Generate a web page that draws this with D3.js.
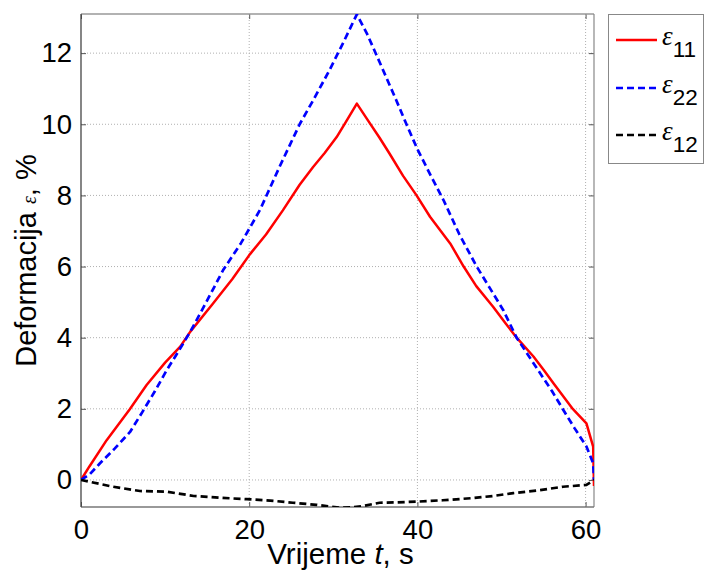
<!DOCTYPE html>
<html><head><meta charset="utf-8">
<script src="https://cdn.jsdelivr.net/npm/d3@7"></script>
<style>body{margin:0;background:#fff}svg{display:block}</style>
</head><body>
<svg id="chart" width="705" height="572"></svg>
<script>
const xTicks = [0, 20, 40, 60];
const yTicks = [0, 2, 4, 6, 8, 10, 12];

const t11 = [0,1,3.05,5.8,7.8,10,11.8,13,15.7,18,20.1,22,24,26,27.6,29,30.4,31.5,32.8,34,35.5,36.7,38.3,39.9,41.5,43.9,45.5,47,49,50.5,51.8,53.8,55,56.2,58.5,60.1,60.9,61];
const e11 = [0,0.38,1.12,1.99,2.67,3.3,3.75,4.17,4.96,5.65,6.35,6.9,7.58,8.3,8.8,9.2,9.64,10.07,10.58,10.15,9.62,9.17,8.55,8.0,7.4,6.65,6.0,5.45,4.87,4.4,4.0,3.47,3.1,2.71,1.99,1.59,0.94,-0.17];

const t22 = [0,1,2.26,4,5.83,7.4,8.8,10.2,11.6,13,14.9,16.9,19,20.1,21.3,23.6,26,27.6,29.5,31.2,32.8,34,35.5,37.5,38.7,40,41.5,43.1,45,47.05,48.6,50.2,51.8,53.2,54.6,56,57.3,58.7,60.1,60.9,61];
const e22 = [0,0.15,0.47,0.88,1.35,1.95,2.5,3.09,3.62,4.17,5.0,5.9,6.65,7.1,7.6,8.8,10.0,10.67,11.5,12.3,13.09,12.55,11.75,10.67,10.0,9.3,8.6,7.87,6.9,6.0,5.4,4.78,4.0,3.5,3.0,2.5,1.99,1.45,0.94,0.47,0];

const t12 = [0,3.8,7,10.2,13.4,16.5,19.7,22.5,25.2,28,30.8,32.2,33.6,35.5,37.5,39.9,43,46.6,49,51.4,54.5,57.3,60.1,60.7,61];
const e12 = [0,-0.19,-0.31,-0.33,-0.45,-0.5,-0.54,-0.58,-0.64,-0.7,-0.78,-0.77,-0.73,-0.64,-0.63,-0.61,-0.57,-0.51,-0.45,-0.37,-0.29,-0.19,-0.14,-0.05,0];

const seriesNames = ["11", "22", "12"];
const seriesColors = ["#ff0000", "#0000ff", "#000000"];

const L = 81, R = 594, T = 14, B = 507;
const svg = d3.select("#chart");
const x = d3.scaleLinear().domain([0, 61]).range([L, R]);
const y = d3.scaleLinear().domain([-0.76, 13.1]).range([B, T]);

svg.append("defs").append("clipPath").attr("id","clip")
  .append("rect").attr("x",L).attr("y",T).attr("width",R-L).attr("height",B-T);

// grid
const grid = svg.append("g");
grid.selectAll(".gx").data(xTicks.filter(d=>d>0)).enter().append("line")
  .attr("x1",d=>x(d)).attr("x2",d=>x(d)).attr("y1",T).attr("y2",B)
  .attr("stroke","#b0b0b0").attr("stroke-width",1).attr("stroke-dasharray","1,2");
grid.selectAll(".gy").data(yTicks).enter().append("line")
  .attr("y1",d=>y(d)).attr("y2",d=>y(d)).attr("x1",L).attr("x2",R)
  .attr("stroke","#b0b0b0").attr("stroke-width",1).attr("stroke-dasharray","1,2");

// axes with inward ticks
const fs = "27.5px";
const ax = svg.append("g").attr("transform",`translate(0,${B})`)
  .call(d3.axisBottom(x).tickValues(xTicks).tickSizeInner(-5).tickSizeOuter(0).tickPadding(12));
const ay = svg.append("g").attr("transform",`translate(${L},0)`)
  .call(d3.axisLeft(y).tickValues(yTicks).tickSizeInner(-5).tickSizeOuter(0).tickPadding(9));
const axT = svg.append("g").attr("transform",`translate(0,${T})`)
  .call(d3.axisTop(x).tickValues(xTicks).tickSizeInner(-5).tickSizeOuter(0).tickFormat(""));
const ayR = svg.append("g").attr("transform",`translate(${R},0)`)
  .call(d3.axisRight(y).tickValues(yTicks).tickSizeInner(-5).tickSizeOuter(0).tickFormat(""));
[ax, ay, axT, ayR].forEach(g => {
  g.select(".domain").remove();
  g.selectAll(".tick line").attr("stroke","#555");
  g.selectAll(".tick text").attr("font-family","Liberation Sans, Arial, sans-serif").attr("font-size",fs).attr("fill","#000");
});
// box
svg.append("line").attr("x1",L).attr("x2",R).attr("y1",T).attr("y2",T).attr("stroke","#999").attr("stroke-width",1.5);
svg.append("line").attr("x1",R).attr("x2",R).attr("y1",T).attr("y2",B).attr("stroke","#888").attr("stroke-width",1.2);
svg.append("line").attr("x1",L).attr("x2",R).attr("y1",B).attr("y2",B).attr("stroke","#777").attr("stroke-width",1.3);
svg.append("line").attr("x1",L).attr("x2",L).attr("y1",T).attr("y2",B).attr("stroke","#444").attr("stroke-width",1.3);

// lines
const series = [
  {t:t11, v:e11, dash:null, w:2.5},
  {t:t22, v:e22, dash:"7,4", w:2.7},
  {t:t12, v:e12, dash:"7,4", w:2.7}
];
const line = d3.line().x(d=>x(d[0])).y(d=>y(d[1]));
const plot = svg.append("g").attr("clip-path","url(#clip)");
series.forEach((s,i) => {
  plot.append("path").datum(d3.zip(s.t, s.v)).attr("d", line)
    .attr("fill","none").attr("stroke",seriesColors[i]).attr("stroke-width",s.w)
    .attr("stroke-dasharray", s.dash).attr("stroke-linejoin","round");
});

// axis labels
const xl = svg.append("text").attr("x",(L+R)/2+3).attr("y",564).attr("text-anchor","middle")
  .attr("font-family","Liberation Sans, Arial, sans-serif").attr("font-size","29.5px");
xl.append("tspan").text("Vrijeme ");
xl.append("tspan").attr("font-style","italic").text("t");
xl.append("tspan").text(", s");

const yl = svg.append("text").attr("transform",`translate(36,${(T+B)/2}) rotate(-90)`).attr("text-anchor","middle")
  .attr("font-family","Liberation Sans, Arial, sans-serif").attr("font-size","29px");
yl.append("tspan").text("Deformacija ");
yl.append("tspan").attr("font-family","Liberation Serif, serif").attr("font-style","italic").attr("font-size","20px").text("ε");
yl.append("tspan").text(", %");

// legend
const lg = svg.append("g");
lg.append("rect").attr("x",608.5).attr("y",14.5).attr("width",95).attr("height",149)
  .attr("fill","#fff").attr("stroke","#888").attr("stroke-width",1);
const legY = [40, 88, 135];
series.forEach((s,i) => {
  lg.append("line").attr("x1",616).attr("x2",657).attr("y1",legY[i]).attr("y2",legY[i])
    .attr("stroke",seriesColors[i]).attr("stroke-width",s.w).attr("stroke-dasharray",s.dash);
  const tx = lg.append("text").attr("x",662).attr("y",legY[i]+5);
  tx.append("tspan").attr("font-family","Liberation Serif, serif").attr("font-style","italic").attr("font-size","27px").text("ε");
  tx.append("tspan").attr("font-family","Liberation Sans, Arial, sans-serif").attr("font-size","22.5px").attr("dy",12).text(seriesNames[i]);
});
</script>
</body></html>
